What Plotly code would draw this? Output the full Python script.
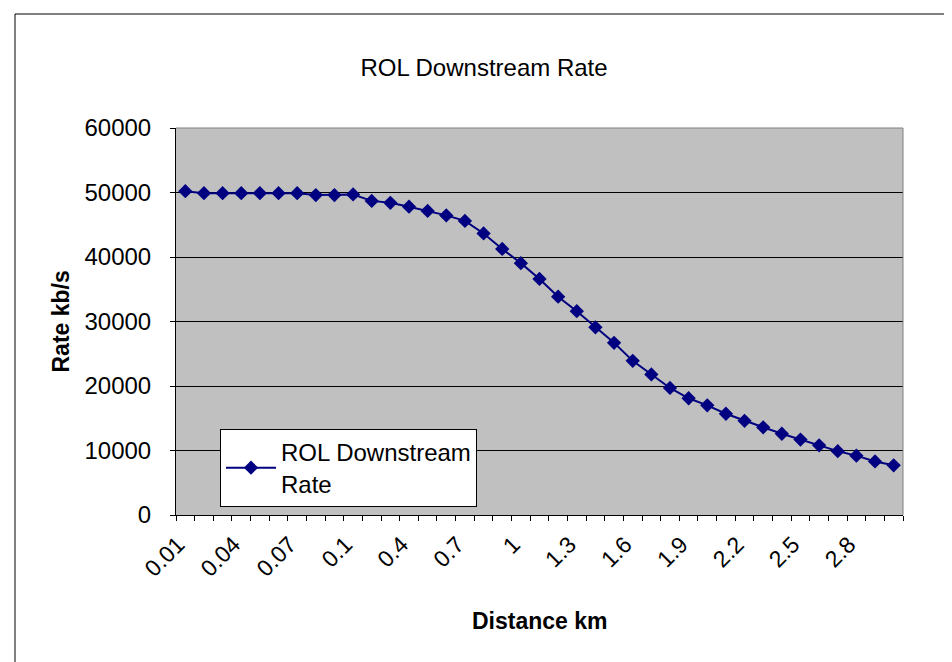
import plotly.graph_objects as go

categories = ["0.01", "0.02", "0.03", "0.04", "0.05", "0.06", "0.07", "0.08", "0.09",
              "0.1", "0.2", "0.3", "0.4", "0.5", "0.6", "0.7", "0.8", "0.9", "1",
              "1.1", "1.2", "1.3", "1.4", "1.5", "1.6", "1.7", "1.8", "1.9", "2",
              "2.1", "2.2", "2.3", "2.4", "2.5", "2.6", "2.7", "2.8", "2.9", "3"]
rate = [50200, 49900, 49900, 49900, 49900, 49900, 49900, 49600, 49600,
        49700, 48700, 48400, 47800, 47150, 46450, 45600, 43650, 41250, 39050,
        36600, 33850, 31600, 29100, 26700, 23900, 21800, 19700, 18100, 17000,
        15700, 14600, 13600, 12600, 11700, 10800, 9900, 9200, 8300, 7700]
y_ticks = [0, 10000, 20000, 30000, 40000, 50000, 60000]
y_tick_text = ["0", "10000", "20000", "30000", "40000", "50000", "60000"]
label_step = 3

FONT = "Liberation Sans, Arial, sans-serif"
W, H = 952, 662
L, R, T, B = 168, 57, 120, 155
PW, PH = W - L - R, H - T - B

idx = list(range(len(categories)))

fig = go.Figure()
fig.add_trace(go.Scatter(
    x=idx, y=rate, mode="lines+markers",
    name="ROL Downstream<br>Rate",
    line=dict(color="#000080", width=2),
    marker=dict(symbol="diamond", size=11, color="#000080"),
))

fig.update_layout(
    width=W, height=H,
    margin=dict(l=L, r=R, t=T, b=B),
    paper_bgcolor="white", plot_bgcolor="#C0C0C0",
    font=dict(family=FONT, color="black", size=22),
    title=dict(text="ROL Downstream Rate", x=0.5, xanchor="center",
               y=1 - 60 / H, yanchor="middle", yref="container",
               font=dict(size=24)),
    showlegend=True,
    legend=dict(x=(212 - L) / PW, xanchor="left",
                y=(H - B - 421) / PH, yanchor="top",
                bgcolor="white", bordercolor="black", borderwidth=1,
                font=dict(size=24), itemwidth=50),
    xaxis=dict(
        range=[-0.5, len(categories) - 0.5],
        tickmode="array",
        tickvals=[i - 0.4 for i in idx[::label_step]],
        ticktext=categories[::label_step],
        tickangle=-45, ticks="", showgrid=False,
        showline=True, linecolor="black", linewidth=1,
        tickfont=dict(size=23), ticklabelstandoff=6,
        minor=dict(tickmode="linear", tick0=-0.5, dtick=1, ticks="outside",
                   ticklen=5, tickcolor="black", showgrid=False),
        zeroline=False,
    ),
    yaxis=dict(
        range=[0, 60000], tickmode="array", tickvals=y_ticks,
        ticktext=y_tick_text,
        ticks="outside", ticklen=5, tickcolor="black",
        showgrid=True, gridcolor="black", gridwidth=1,
        showline=True, linecolor="black", linewidth=1,
        tickfont=dict(size=24), ticklabelstandoff=14,
        zeroline=False,
    ),
    annotations=[
        dict(text="<b>Rate kb/s</b>", textangle=-90, x=(52 - L) / PW,
             y=0.5, xref="paper", yref="paper", showarrow=False,
             xanchor="center", yanchor="middle", font=dict(size=23)),
        dict(text="<b>Distance km</b>", x=0.5, y=-(613 - (H - B)) / PH,
             xref="paper", yref="paper", showarrow=False,
             xanchor="center", yanchor="middle", font=dict(size=23)),
    ],
    shapes=[
        dict(type="path", xref="paper", yref="paper",
             path="M 0,1 L 1,1 L 1,0", line=dict(color="#808080", width=1),
             layer="above"),
        dict(type="rect", xref="paper", yref="paper",
             x0=(7 - L) / PW, x1=(948 - L) / PW,
             y0=-(656 - (H - B)) / PH, y1=1 + (T - 6) / PH,
             line=dict(color="black", width=1), layer="below"),
    ],
)

fig.write_html("out.html")
